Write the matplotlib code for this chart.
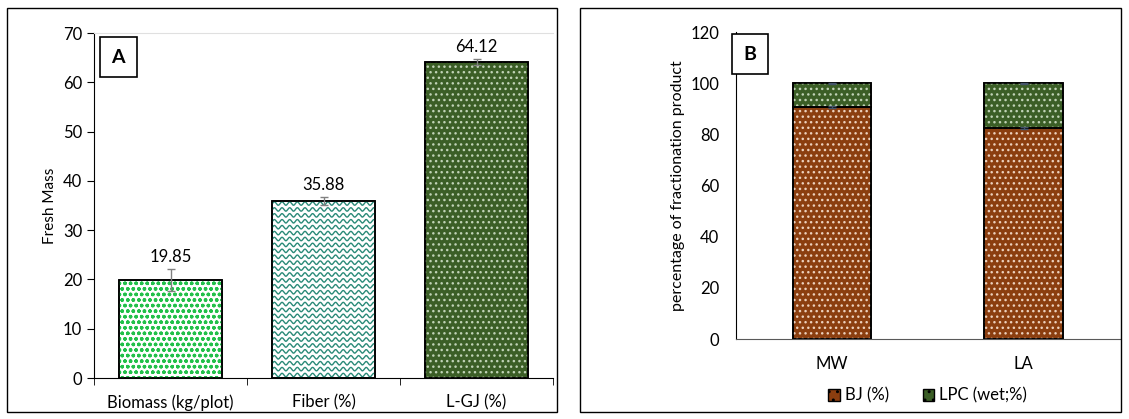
import numpy as np
import matplotlib
matplotlib.use("Agg")
import matplotlib.pyplot as plt
from matplotlib.patches import Rectangle, Patch

plt.rcParams['font.family'] = ['Lato', 'DejaVu Sans']
plt.rcParams['hatch.linewidth'] = 1.0

# panel A data
cats_a = ["Biomass (kg/plot)", "Fiber (%)", "L-GJ (%)"]
vals_a = [19.85, 35.88, 64.12]
errs_a = [2.2, 0.8, 0.7]

# panel B data
cats_b = ["MW", "LA"]
bj = [90.5, 82.5]
lpc = [9.5, 17.5]
bj_err = [0.4, 0.4]
lpc_err = [0.2, 0.2]

W, H = 1129, 419
fig = plt.figure(figsize=(W / 100, H / 100), dpi=100)

# panel borders
fig.patches.append(Rectangle((7 / W, 1 - 412 / H), 550 / W, 404 / H, transform=fig.transFigure,
                             fill=False, edgecolor="black", lw=1))
fig.patches.append(Rectangle((580 / W, 1 - 412 / H), 541 / W, 404 / H, transform=fig.transFigure,
                             fill=False, edgecolor="black", lw=1))


def hatched_bar(ax, x, h, w, face, hcolor, hatch, bottom=0):
    ax.bar(x, h, w, bottom=bottom, color=face, edgecolor="black", linewidth=1.2, zorder=2)
    if hatch:
        ax.bar(x, h, w, bottom=bottom, color="none", edgecolor=hcolor, hatch=hatch, linewidth=0, zorder=3)
    return ax.bar(x, h, w, bottom=bottom, color="none", edgecolor="black", linewidth=1.2, zorder=4)


def wavy_fill(ax, bar, color):
    # wavy texture clipped to the bar
    r = bar.patches[0]
    x0, w, h = r.get_x(), r.get_width(), r.get_height()
    xs = np.linspace(x0, x0 + w, 400)
    for y in np.arange(0.6, h, 1.2):
        ax.plot(xs, y + 0.35 * np.sin(2 * np.pi * (xs - x0) / 0.05), color=color, lw=1.0,
                zorder=3, clip_path=r, clip_on=True)


# ---- panel A ----
axa = fig.add_axes([94 / W, 1 - 378 / H, 459 / W, 345 / H])
xa = np.arange(len(cats_a))
styles_a = [("white", "#22c04a", "ooo"), ("white", "#2a8a78", None), ("#3b5e26", "#c0d2b6", "...")]
for i in range(len(cats_a)):
    b = hatched_bar(axa, xa[i], vals_a[i], 0.667, *styles_a[i])
    if i == 1:
        wavy_fill(axa, b, "#2a8a78")
axa.errorbar(xa, vals_a, yerr=errs_a, fmt="none", ecolor="#808080", capsize=3, lw=1, zorder=5)
for i in range(len(cats_a)):
    axa.text(xa[i], vals_a[i] + errs_a[i] + 0.8, "%.2f" % vals_a[i], ha="center", va="bottom", fontsize=12)
axa.set_xlim(-0.5, 2.5)
axa.set_ylim(0, 70)
axa.set_yticks(np.arange(0, 71, 10))
axa.set_xticks(xa)
axa.set_xticklabels(cats_a, fontsize=12)
axa.set_xticks([-0.5, 0.5, 1.5, 2.5], minor=True)
axa.tick_params(axis="x", which="major", length=0, pad=12)
axa.tick_params(axis="x", which="minor", length=5, direction="out")
axa.tick_params(axis="y", length=5, direction="out", labelsize=12)
axa.set_ylabel("Fresh Mass", fontsize=11)
axa.spines["right"].set_visible(False)
axa.spines["top"].set_color("#e0e0e0")
axa.text(0.038, 0.955, "A", transform=axa.transAxes, fontsize=14, fontweight="bold", ha="left", va="top",
         bbox=dict(boxstyle="square,pad=0.6", facecolor="white", edgecolor="black", lw=1.2))

# ---- panel B ----
axb = fig.add_axes([736 / W, 1 - 339 / H, 383.5 / W, 307 / H])
xb = np.arange(len(cats_b))
for i in range(len(cats_b)):
    hatched_bar(axb, xb[i], bj[i], 0.41, "#8b3e0f", "#ecd0bc", "...")
    hatched_bar(axb, xb[i], lpc[i], 0.41, "#3b5e26", "#c0d2b6", "...", bottom=bj[i])
axb.errorbar(xb, bj, yerr=bj_err, fmt="none", ecolor="#44546a", capsize=3, lw=1, zorder=5)
axb.errorbar(xb, np.add(bj, lpc), yerr=lpc_err, fmt="none", ecolor="#44546a", capsize=3, lw=1, zorder=5)
axb.set_xlim(-0.5, 1.5)
axb.set_ylim(0, 120)
axb.set_yticks(np.arange(0, 121, 20))
axb.set_xticks(xb)
axb.set_xticklabels(cats_b, fontsize=12)
axb.tick_params(axis="x", length=0, pad=12)
axb.tick_params(axis="y", length=0, labelsize=12, pad=12)
axb.set_ylabel("percentage of fractionation product", fontsize=11.5)
for s in ["top", "right"]:
    axb.spines[s].set_visible(False)
axb.spines["bottom"].set_color("#595959")
axb.text(0.02, 0.955, "B", transform=axb.transAxes, fontsize=14, fontweight="bold", ha="left", va="top",
         bbox=dict(boxstyle="square,pad=0.6", facecolor="white", edgecolor="black", lw=1.2))
handles = [Patch(facecolor="#8b3e0f", edgecolor="black", hatch="..", label="BJ (%)"),
           Patch(facecolor="#3b5e26", edgecolor="black", hatch="..", label="LPC (wet;%)")]
axb.legend(handles=handles, loc="upper center", bbox_to_anchor=(0.5, -0.11), ncol=2, frameon=False,
           fontsize=12, handlelength=0.7, handleheight=0.7, handletextpad=0.3, columnspacing=2.0)

fig.savefig("out.png", dpi=100)
